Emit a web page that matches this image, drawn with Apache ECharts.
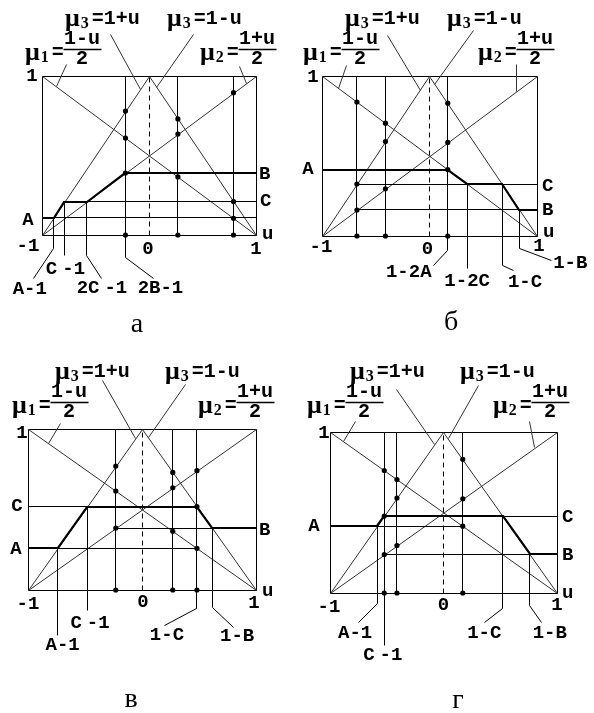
<!DOCTYPE html>
<html>
<head>
<meta charset="utf-8">
<script src="https://cdn.jsdelivr.net/npm/echarts@6/dist/echarts.min.js"></script>
<style>
  html, body { margin: 0; padding: 0; background: #fff; }
  #chart { width: 594px; height: 713px; }
</style>
</head>
<body>
<div id="chart"></div>
<script>
// ---- values ----
const captions = ['а', 'б', 'в', 'г'];
const levelA = [0.11, 0.415, 0.26, 0.415];
const levelB = [0.39, 0.165, 0.385, 0.24];
const levelC = [0.21, 0.325, 0.518, 0.478];
const sampleU = [0.27, -0.41, 0.27, -0.41];   // unlabelled probe input
const tickValues = [-1, 0, 1];
const tickLabels = ['-1', '0', '1'];

// membership functions
const mu = {
  mu1: u => (1 - u) / 2,
  mu2: u => (1 + u) / 2,
  mu3: u => 1 - Math.abs(u)
};

// ---- layout ----
const boxes = [
  { left: 42, top: 76, width: 214, height: 159 },
  { left: 322, top: 76, width: 215, height: 160 },
  { left: 28, top: 429, width: 228, height: 161 },
  { left: 330, top: 432, width: 227, height: 161 }
];
const captionPos = [[137, 325], [451, 323], [131, 700], [458, 701]];
const tickOffsets = [
  [[-14, 11], [-1, 14], [0, 14]],
  [[-1, 11], [-2, 13], [2, 10]],
  [[0, 14], [1, 12.5], [-2, 13]],
  [[-1, 14], [0, 12], [0, 12]]
];
const uOffsets = [[6, -1], [6, -4], [6, 1], [5, 0]];
const oneOffsets = [[-10, 0], [-9, 1], [-6, 4], [-6, 1]];
const formulaX = [[-17, 23, 125, 158], [-19, 23, 125, 156], [-16, 27, 137, 170], [-23, 20, 130, 163]];
const formulaDY = [0, 0, 0, -3];
// leader from a point on a membership line out to its formula
const formulaLeaders = [
  [['mu1', -0.863, 10, -22], ['mu3', -0.084, -30, -55], ['mu3', 0.072, 37, -53], ['mu2', 0.907, -7, -17]],
  [['mu1', -0.848, 8, -23], ['mu3', -0.088, -33, -55], ['mu3', 0.051, 39, -54], ['mu2', 0.805, 0, -27]],
  [['mu1', -0.822, 12, -20], ['mu3', -0.061, -33, -58], ['mu3', 0.055, 37, -53]],
  [['mu1', -0.883, 12, -20], ['mu3', -0.075, -38, -55], ['mu3', 0.042, 30, -53], ['mu2', 0.806, -5, -26]]
];

const MONO = '"Liberation Mono", "DejaVu Sans Mono", monospace';
const SERIF = '"Liberation Serif", "DejaVu Serif", serif';
const INK = '#000';
const GREY = '#333';

// Graphical construction of each panel, expressed through the levels
function construction(p) {
  const A = levelA[p], B = levelB[p], C = levelC[p], s = sampleU[p];
  if (p === 0) return {
    bold: [[-1, A], [A - 1, A], [C - 1, C], [2 * C - 1, C], [2 * B - 1, B], [1, B]],
    hlines: [[A - 1, 1, A], [C - 1, 1, C]],
    vlines: [[A - 1, A], [C - 1, C], [2 * C - 1, C], [2 * B - 1, 1], [s, 1], [1 - C, 1]],
    probes: [2 * B - 1, s, 1 - C],
    notes: [
      [A - 1, 'A-1', [[0, 13], [-20.5, 43]], [-24, 54]],
      [C - 1, 'C-1', [[0, 20]], [1, 34]],
      [2 * C - 1, '2C-1', [[0, 20], [15, 43]], [15, 53]],
      [2 * B - 1, '2B-1', [[0, 22], [28, 43]], [35, 53]]
    ],
    side: [['A', -1, A, -14, 3, 'center'], ['B', 1, B, 3, 1, 'left'], ['C', 1, C, 4, 0, 'left']]
  };
  if (p === 1) return {
    bold: [[-1, A], [1 - 2 * A, A], [1 - 2 * C, C], [1 - C, C], [1 - B, B], [1, B]],
    hlines: [[C - 1, 1, C], [C - 1, 1, B]],
    vlines: [[C - 1, 1], [s, 1], [1 - 2 * A, 1], [1 - 2 * C, C], [1 - C, C], [1 - B, B]],
    probes: [C - 1, s, 1 - 2 * A],
    notes: [
      [1 - 2 * A, '1-2A', [[0, 14], [-14.5, 29]], [-39, 36]],
      [1 - 2 * C, '1-2C', [[0, 32]], [0, 45]],
      [1 - C, '1-C', [[0, 29], [11, 34]], [23, 46]],
      [1 - B, '1-B', [[0, 12], [32, 24]], [51, 27]]
    ],
    side: [['A', -1, A, -14, 0, 'center'], ['C', 1, C, 5, 2, 'left'], ['B', 1, B, 5, 1, 'left']]
  };
  if (p === 2) return {
    bold: [[-1, A], [A - 1, A], [C - 1, C], [1 - C, C], [1 - B, B], [1, B]],
    hlines: [[-1, C - 1, C], [A - 1, 1 - C, A], [2 * B - 1, 1, B]],
    vlines: [[A - 1, A], [C - 1, C], [2 * B - 1, 1], [s, 1], [1 - C, 1], [1 - B, B]],
    probes: [2 * B - 1, s, 1 - C],
    notes: [
      [A - 1, 'A-1', [[0, 45]], [5, 55]],
      [C - 1, 'C-1', [[0, 20]], [3, 33]],
      [1 - C, '1-C', [[0, 18], [-32, 35]], [-30, 45]],
      [1 - B, '1-B', [[0, 17], [21, 37]], [25, 46]]
    ],
    side: [['C', -1, C, -11, 0, 'center'], ['A', -1, A, -12, 1, 'center'], ['B', 1, B, 3, 2, 'left']]
  };
  return {
    bold: [[-1, A], [A - 1, A], [C - 1, C], [1 - C, C], [1 - B, B], [1, B]],
    hlines: [[A - 1, 1 - 2 * A, A], [C - 1, 1, C], [C - 1, 1, B]],
    vlines: [[A - 1, A], [C - 1, 1], [s, 1], [1 - 2 * A, 1], [1 - C, C], [1 - B, B]],
    probes: [C - 1, s, 1 - 2 * A],
    notes: [
      [A - 1, 'A-1', [[0, 10], [-19, 29]], [-22, 40]],
      [C - 1, 'C-1', [[0, 52]], [-1.5, 62]],
      [1 - C, '1-C', [[0, 15], [-18, 29]], [-18.5, 40]],
      [1 - B, '1-B', [[0, 12], [12, 29]], [20, 40]]
    ],
    side: [['A', -1, A, -16, 0, 'center'], ['C', 1, C, 5, 1, 'left'], ['B', 1, B, 5, 1, 'left']]
  };
}

const monoFont = 'bold 19px ' + MONO;
const richStyles = {
  m: { font: 'bold 26px ' + SERIF, fill: INK },
  s: { font: 'bold 16px ' + SERIF, fill: INK, verticalAlign: 'bottom', padding: [0, 3, 0, 1] },
  t: { font: monoFont, fill: INK },
  f: { font: 'bold 20px ' + MONO, fill: INK },
  g: { font: monoFont, fill: INK, padding: [0, 5, 0, 0] }
};

// "C-1" style labels are set with a small gap after C
function labelRich(str) {
  const i = str.indexOf('C-');
  if (i < 0) return '{t|' + str + '}';
  return (i > 0 ? '{t|' + str.slice(0, i) + '}' : '') + '{g|C}{t|' + str.slice(i + 1) + '}';
}

function buildItems(p) {
  const k = construction(p);
  const items = [];
  const line = (pts, w, color, dash) => items.push({ kind: 'poly', pts, w, color, dash });
  const text = (at, rich, align) => items.push({ kind: 'text', at, rich, align });
  const dot = (u, y) => items.push({ kind: 'dot', at: [u, y] });

  // frame and the membership functions
  line([[-1, 0], [1, 0], [1, 1], [-1, 1], [-1, 0]], 1, INK);
  line([[-1, 1], [1, 0]], 1, GREY);
  line([[-1, 0], [1, 1]], 1, GREY);
  line([[-1, 0], [0, 1], [1, 0]], 1, GREY);
  line([[0, 0], [0, 1]], 1, INK, [5, 4]);

  k.hlines.forEach(h => line([[h[0], h[2]], [h[1], h[2]]], 1, INK));
  k.vlines.forEach(v => line([[v[0], v[1]], [v[0], 0]], 1, INK));
  k.notes.forEach(n => {
    line([[n[0], 0, 0, 0]].concat(n[2].map(o => [n[0], 0, o[0], o[1]])), 1, INK);
    text([n[0], 0, n[3][0], n[3][1]], labelRich(n[1]), 'center');
  });

  // formula leaders
  formulaLeaders[p].forEach(f => {
    const y = mu[f[0]](f[1]);
    line([[f[1], y, 0, 0], [f[1], y, f[2], f[3]]], 1, GREY);
  });

  // resulting characteristic
  line(k.bold, 2.2, INK);

  k.probes.forEach(u => { dot(u, mu.mu1(u)); dot(u, mu.mu2(u)); dot(u, mu.mu3(u)); dot(u, 0); });

  // axis texts
  tickValues.forEach((v, i) => text([v, 0, tickOffsets[p][i][0], tickOffsets[p][i][1]], '{t|' + tickLabels[i] + '}', 'center'));
  text([1, 0, uOffsets[p][0], uOffsets[p][1]], '{t|u}', 'left');
  text([-1, 1, oneOffsets[p][0], oneOffsets[p][1]], '{t|1}', 'center');
  k.side.forEach(sd => text([sd[1], sd[2], sd[3], sd[4]], '{t|' + sd[0] + '}', sd[5]));

  // formulas
  const fx = formulaX[p], dy = formulaDY[p];
  text([-1, 1, fx[1], -57 + dy], '{m|μ}{s|3}{f|=1+u}', 'left');
  text([-1, 1, fx[2], -57 + dy], '{m|μ}{s|3}{f|=1-u}', 'left');
  [[fx[0], '1', '1-u'], [fx[3], '2', '1+u']].forEach(([x0, sub, num]) => {
    text([-1, 1, x0, -23 + dy], '{m|μ}{s|' + sub + '}{f|=}', 'left');
    text([-1, 1, x0 + 57, -37 + dy], '{f|' + num + '}', 'center');
    line([[-1, 1, x0 + 38, -27 + dy], [-1, 1, x0 + 76, -27 + dy]], 1.3, INK);
    text([-1, 1, x0 + 57, -17 + dy], '{f|2}', 'center');
  });
  return items;
}

function panelSeries(p) {
  const items = buildItems(p);
  return {
    type: 'custom',
    xAxisIndex: p,
    yAxisIndex: p,
    clip: false,
    silent: true,
    animation: false,
    encode: { x: 0, y: 1 },
    data: items.map(it => [(it.at || it.pts[0])[0], (it.at || it.pts[0])[1]]),
    renderItem(params, api) {
      const it = items[params.dataIndex];
      const P = q => {
        const c = api.coord([q[0], q[1]]);
        return [c[0] + (q[2] || 0), c[1] + (q[3] || 0)];
      };
      if (it.kind === 'poly') {
        const snap = it.w <= 1.5 ? v => Math.floor(v) + 0.5 : v => Math.round(v);
        const pts = it.pts.map(q => P(q)).map(c => [snap(c[0]), snap(c[1])]);
        return {
          type: 'polyline',
          shape: { points: pts },
          style: { stroke: it.color, lineWidth: it.w, fill: null, lineDash: it.dash || null, lineJoin: 'miter' }
        };
      }
      if (it.kind === 'dot') {
        const c = P(it.at);
        return { type: 'circle', shape: { cx: c[0], cy: c[1], r: 2.6 }, style: { fill: INK } };
      }
      const c = P(it.at);
      return {
        type: 'text',
        x: c[0], y: c[1],
        style: {
          text: it.rich, rich: richStyles, font: monoFont, fill: INK,
          align: it.align, verticalAlign: 'middle',
          textAlign: it.align, textVerticalAlign: 'middle'
        }
      };
    }
  };
}

const chart = echarts.init(document.getElementById('chart'), null, { renderer: 'canvas' });
chart.setOption({
  animation: false,
  backgroundColor: '#fff',
  grid: boxes.map(b => Object.assign({ containLabel: false }, b)),
  xAxis: boxes.map((b, i) => ({ type: 'value', gridIndex: i, min: -1, max: 1, show: false })),
  yAxis: boxes.map((b, i) => ({ type: 'value', gridIndex: i, min: 0, max: 1, show: false })),
  series: captions.map((c, i) => panelSeries(i)),
  graphic: captions.map((c, i) => ({
    type: 'text',
    x: captionPos[i][0], y: captionPos[i][1],
    style: {
      text: c, font: '28px ' + SERIF, fill: INK,
      align: 'center', verticalAlign: 'middle', textAlign: 'center', textVerticalAlign: 'middle'
    }
  }))
});
</script>
</body>
</html>
